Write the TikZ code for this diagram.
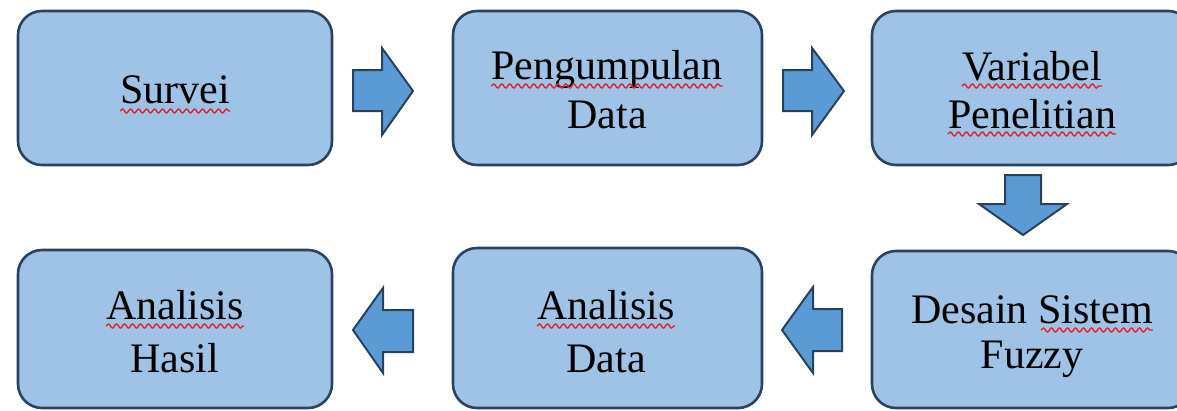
\documentclass[tikz,border=0pt]{standalone}
\usepackage{fontspec}
\setmainfont{Liberation Serif}
\usetikzlibrary{decorations.pathmorphing}
\definecolor{boxfill}{RGB}{158,195,230}
\definecolor{boxline}{RGB}{40,68,96}
\definecolor{arrfill}{RGB}{91,155,213}
\definecolor{arrline}{RGB}{38,66,94}
\definecolor{wavered}{RGB}{232,32,40}
\tikzset{
  flowbox/.style={draw=boxline, fill=boxfill, line width=2.6pt, rounded corners=24pt, inner sep=0pt},
  blockarrow/.style={draw=arrline, fill=arrfill, line width=2pt, line join=miter},
  lbl/.style={anchor=base, inner sep=0pt, font=\fontsize{42}{48}\selectfont},
  wavy/.style={draw=wavered, line width=1.4pt, decorate, decoration={snake, amplitude=2pt, segment length=8pt}}
}
\begin{document}
\begin{tikzpicture}[x=1pt,y=-1pt]
\useasboundingbox (0,0) rectangle (1177,410);
\clip (0,0) rectangle (1177,410);
% boxes
\node[flowbox, minimum width=314pt, minimum height=154pt] (b1) at (175,88) {};
\node[flowbox, minimum width=309pt, minimum height=154pt] (b2) at (607.5,88) {};
\node[flowbox, minimum width=320pt, minimum height=154pt] (b3) at (1032,88) {};
\node[flowbox, minimum width=314pt, minimum height=158pt] (b4) at (175,329) {};
\node[flowbox, minimum width=309pt, minimum height=160pt] (b5) at (607.5,328) {};
\node[flowbox, minimum width=320pt, minimum height=157pt] (b6) at (1032,329.5) {};
% texts
\node[lbl] (t1) at (175,103) {Survei};
\node[lbl] (t2a) at (607,79) {Pengumpulan};
\node[lbl] (t2b) at (607,128) {Data};
\node[lbl] (t3a) at (1032,80) {Variabel};
\node[lbl] (t3b) at (1032,128) {Penelitian};
\node[lbl] (t4a) at (175,319) {Analisis};
\node[lbl] (t4b) at (175,372) {Hasil};
\node[lbl] (t5a) at (606,319) {Analisis};
\node[lbl] (t5b) at (606,372) {Data};
\node[lbl] (t6a) at (1032,323) {Desain Sistem};
\node[lbl] (t6b) at (1032,368) {Fuzzy};
% spell-check wavy underlines
\draw[wavy] ([yshift=-8pt]t1.base west) -- ([yshift=-8pt]t1.base east);
\draw[wavy] ([yshift=-7pt]t2a.base west) -- ([yshift=-7pt]t2a.base east);
\draw[wavy] ([yshift=-6pt]t3a.base west) -- ([yshift=-6pt]t3a.base east);
\draw[wavy] ([yshift=-6pt]t3b.base west) -- ([yshift=-6pt]t3b.base east);
\draw[wavy] ([yshift=-7pt]t4a.base west) -- ([yshift=-7pt]t4a.base east);
\draw[wavy] ([yshift=-7pt]t5a.base west) -- ([yshift=-7pt]t5a.base east);
\draw[wavy] (1041,330) -- ([yshift=-7pt]t6a.base east);
% block arrows
\draw[blockarrow] (353,70) -- (382,70) -- (382,48) -- (413,91) -- (382,135) -- (382,111) -- (353,111) -- cycle;
\draw[blockarrow] (783,70) -- (812,70) -- (812,48) -- (844,91) -- (812,135) -- (812,111) -- (783,111) -- cycle;
\draw[blockarrow] (1005,175) -- (1041,175) -- (1041,204) -- (1067,204) -- (1023,235) -- (979,204) -- (1005,204) -- cycle;
\draw[blockarrow] (413,310) -- (383,310) -- (383,288) -- (353,330) -- (383,373) -- (383,352) -- (413,352) -- cycle;
\draw[blockarrow] (842,309) -- (813,309) -- (813,287) -- (782,330) -- (813,373) -- (813,351) -- (842,351) -- cycle;
\end{tikzpicture}
\end{document}
